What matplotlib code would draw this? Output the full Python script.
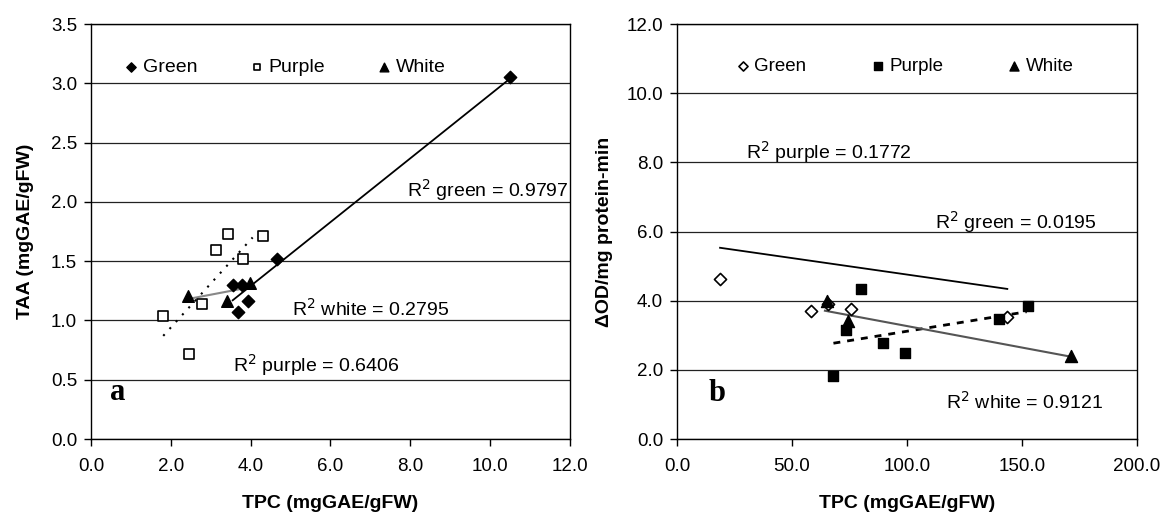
import matplotlib.pyplot as plt
import numpy as np

plt.rcParams['font.family'] = ['Liberation Sans', 'DejaVu Sans']

# panel a: TAA vs TPC
a_green_x = [3.55, 3.78, 3.94, 3.69, 4.67, 10.5]
a_green_y = [1.30, 1.30, 1.16, 1.07, 1.52, 3.05]
a_purple_x = [1.81, 2.46, 2.78, 3.13, 3.43, 3.82, 4.31]
a_purple_y = [1.04, 0.72, 1.14, 1.59, 1.73, 1.52, 1.71]
a_white_x = [2.42, 3.40, 3.98]
a_white_y = [1.21, 1.16, 1.32]
# trend lines (end points)
a_green_fit = ([3.55, 10.5], [1.17, 3.04])
a_purple_fit = ([1.81, 4.05], [0.87, 1.70])
a_white_fit = ([2.42, 3.98], [1.18, 1.28])

# panel b: dOD vs TPC
b_green_x = [18.7, 58.1, 65.8, 75.7, 143.6]
b_green_y = [4.64, 3.71, 3.90, 3.75, 3.53]
b_purple_x = [68.0, 73.3, 80.0, 89.7, 99.1, 140.1, 152.5]
b_purple_y = [1.83, 3.15, 4.33, 2.78, 2.48, 3.47, 3.85]
b_white_x = [65.1, 74.5, 171.3]
b_white_y = [4.00, 3.41, 2.40]
b_green_fit = ([18.7, 143.6], [5.53, 4.34])
b_purple_fit = ([68.0, 152.0], [2.77, 3.68])
b_white_fit = ([64.3, 171.3], [3.71, 2.38])

fig = plt.figure(figsize=(11.74, 5.13), dpi=100)
ax1 = fig.add_axes([0.0775, 0.1442, 0.408, 0.809])
ax2 = fig.add_axes([0.5767, 0.1442, 0.3918, 0.809])

tick_fs = 13.5
ann_fs = 14
lab_fs = 14


def style(ax, xmax, xstep, ymax, ystep):
    ax.set_xlim(0, xmax)
    ax.set_ylim(0, ymax)
    ax.set_xticks(np.arange(0, xmax + xstep / 2, xstep))
    ax.set_yticks(np.arange(0, ymax + ystep / 2, ystep))
    ax.xaxis.set_major_formatter('{x:.1f}')
    ax.yaxis.set_major_formatter('{x:.1f}')
    ax.tick_params(labelsize=tick_fs, length=5, width=1, direction='out')
    ax.tick_params(axis='x', pad=9)
    ax.tick_params(axis='y', pad=5)
    ax.yaxis.grid(True, color='#222222', lw=0.9)
    ax.set_axisbelow(True)
    for s in ax.spines.values():
        s.set_linewidth(1)
        s.set_color('black')


style(ax1, 12, 2, 3.5, 0.5)
style(ax2, 200, 50, 12, 2)

# panel a
ax1.plot(*a_green_fit, color='black', lw=1.3, zorder=2)
ax1.plot(*a_purple_fit, color='black', lw=1.5, ls=(0, (1, 3.5)), zorder=2)
ax1.plot(*a_white_fit, color='#888888', lw=1.5, zorder=2)
ax1.scatter(a_green_x, a_green_y, marker='D', s=40, color='black', label='Green', zorder=3)
ax1.scatter(a_purple_x, a_purple_y, marker='s', s=45, facecolor='white', edgecolor='black',
            linewidth=1.2, label='Purple', zorder=3)
ax1.scatter(a_white_x, a_white_y, marker='^', s=70, color='black', label='White', zorder=3)
ax1.legend(loc='upper left', bbox_to_anchor=(0.035, 0.96), ncol=3, frameon=False,
           fontsize=ann_fs, handlelength=0.6, handletextpad=0.3, columnspacing=2.75,
           markerscale=0.75)
ax1.text(7.92, 2.10, r'R$^2$ green = 0.9797', fontsize=ann_fs, va='center')
ax1.text(5.03, 1.10, r'R$^2$ white = 0.2795', fontsize=ann_fs, va='center')
ax1.text(3.57, 0.62, r'R$^2$ purple = 0.6406', fontsize=ann_fs, va='center')
ax1.text(0.48, 0.39, 'a', fontsize=22, fontweight='bold', family='Liberation Serif', va='center')
ax1.set_xlabel('TPC (mgGAE/gFW)', fontsize=lab_fs, fontweight='bold', labelpad=14)
ax1.set_ylabel('TAA (mgGAE/gFW)', fontsize=lab_fs, fontweight='bold', labelpad=12)

# panel b
ax2.plot(*b_green_fit, color='black', lw=1.3, zorder=2)
ax2.plot(*b_purple_fit, color='black', lw=2, ls=(0, (2.5, 2.5)), zorder=2)
ax2.plot(*b_white_fit, color='#555555', lw=1.5, zorder=2)
ax2.scatter(b_green_x, b_green_y, marker='D', s=38, facecolor='white', edgecolor='black',
            linewidth=1.2, label='Green', zorder=3)
ax2.scatter(b_purple_x, b_purple_y, marker='s', s=55, color='black', label='Purple', zorder=3)
ax2.scatter(b_white_x, b_white_y, marker='^', s=75, color='black', label='White', zorder=3)
ax2.legend(loc='upper left', bbox_to_anchor=(0.095, 0.96), ncol=3, frameon=False,
           fontsize=13.5, handlelength=0.6, handletextpad=0.3, columnspacing=3.5,
           markerscale=0.75)
ax2.text(30, 8.3, r'R$^2$ purple = 0.1772', fontsize=ann_fs, va='center')
ax2.text(112, 6.28, r'R$^2$ green = 0.0195', fontsize=ann_fs, va='center')
ax2.text(117, 1.08, r'R$^2$ white = 0.9121', fontsize=ann_fs, va='center')
ax2.text(13.5, 1.32, 'b', fontsize=22, fontweight='bold', family='Liberation Serif', va='center')
ax2.set_xlabel('TPC (mgGAE/gFW)', fontsize=lab_fs, fontweight='bold', labelpad=14)
ax2.set_ylabel('ΔOD/mg protein-min', fontsize=lab_fs, fontweight='bold', labelpad=10)

fig.savefig('out.png', dpi=100)
